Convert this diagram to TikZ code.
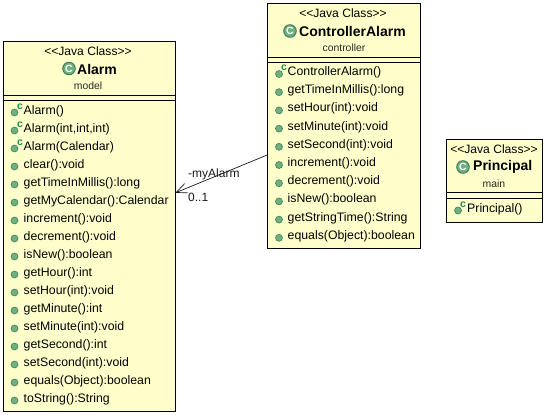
\documentclass[tikz,border=0pt]{standalone}
\usepackage{fontspec}
\setmainfont{Liberation Sans}
\usetikzlibrary{arrows.meta}
\definecolor{classfill}{HTML}{FFFFCC}
\definecolor{icongreen}{HTML}{6FAF80}
\definecolor{iconedge}{HTML}{3F7F55}
\definecolor{badgegreen}{HTML}{1F8A50}
\tikzset{
  classbox/.style={draw=black,fill=classfill,line width=1pt,inner sep=0pt,rectangle},
  stereo/.style={font=\fontsize{12.1}{14}\selectfont},
  classname/.style={font=\fontsize{14}{16}\selectfont\bfseries,anchor=west,inner sep=0pt},
  pkgname/.style={font=\fontsize{10.4}{12}\selectfont,text=black!85},
  member/.style={font=\fontsize{12.3}{14}\selectfont,anchor=west,inner sep=0pt,text height=9pt,text depth=3pt},
  dot/.style={circle,draw=iconedge,fill=icongreen,line width=.6pt,minimum size=7pt,inner sep=0pt},
  ctormark/.style={font=\fontsize{10.5}{10.5}\selectfont\bfseries,text=badgegreen,inner sep=0pt},
  badge/.style={circle,draw=iconedge,fill=icongreen,line width=1pt,minimum size=12.5pt,inner sep=0pt,
    text=white,font=\fontsize{10.5}{10.5}\selectfont\bfseries},
  assoc/.style={-{Straight Barb[length=11pt,width=10pt]},line width=.7pt,black!90},
  edgelabel/.style={font=\fontsize{12}{14}\selectfont,anchor=west,inner sep=0pt,text=black!90}
}
\begin{document}
\begin{tikzpicture}[x=1pt,y=-1pt]
\useasboundingbox (0,0) rectangle (547,415);
% the three classes
\node[classbox,minimum width=172pt,minimum height=370pt] (alarm) at (89,226) {};
\node[classbox,minimum width=153pt,minimum height=245pt] (controller) at (344,125.5) {};
\node[classbox,minimum width=96pt,minimum height=83pt] (principal) at (494,180.5) {};
% compartment lines
\foreach \y in {95.5,100.5}
\draw[line width=1pt] (3,\y) -- (175,\y);
\foreach \y in {57.5,62.5}
\draw[line width=1pt] (267.5,\y) -- (420.5,\y);
\foreach \y in {192.5,198}
\draw[line width=1pt] (446,\y) -- (542,\y);
% headers
\node[stereo] (alarmstereo) at (88,51) {<{}<Java Class>{}>};
\node[badge] (alarmbadge) at (69,68.5) {C};
\node[classname] (alarmname) at (77,69) {Alarm};
\node[pkgname] (alarmpkg) at (88,85.5) {model};
\node[stereo] (controllerstereo) at (343,13) {<{}<Java Class>{}>};
\node[badge] (controllerbadge) at (290,31) {C};
\node[classname] (controllername) at (299,31) {ControllerAlarm};
\node[pkgname] (controllerpkg) at (344,47.5) {controller};
\node[stereo] (principalstereo) at (494,149) {<{}<Java Class>{}>};
\node[badge] (principalbadge) at (463,167) {C};
\node[classname] (principalname) at (473,167) {Principal};
\node[pkgname] (principalpkg) at (494,184) {main};
% members, edit here for the rows
\foreach \m [count=\i from 0] in {Alarm(),{Alarm(int,int,int)},Alarm(Calendar),clear():void,
  getTimeInMillis():long,getMyCalendar():Calendar,increment():void,decrement():void,isNew():boolean,
  getHour():int,setHour(int):void,getMinute():int,setMinute(int):void,getSecond():int,
  setSecond(int):void,equals(Object):boolean,toString():String}
{
\node[member] (alarmrow\i) at (23.5,111.5+18*\i) {\m};
\node[dot] (alarmdot\i) at (14.5,112.5+18*\i) {};
}
\foreach \m [count=\i from 0] in {ControllerAlarm(),getTimeInMillis():long,setHour(int):void,
  setMinute(int):void,setSecond(int):void,increment():void,decrement():void,isNew():boolean,
  getStringTime():String,equals(Object):boolean}
{
\node[member] (controllerrow\i) at (287.5,72.5+18.2*\i) {\m};
\node[dot] (controllerdot\i) at (279,74+18.2*\i) {};
}
\node[member] (principalrow0) at (467,209) {Principal()};
\node[dot] (principaldot0) at (458,210.5) {};
% constructor marks
\foreach \i in {0,1,2}
\node[ctormark] (alarmmark\i) at (20,106.5+18*\i) {c};
\node[ctormark] (controllermark0) at (284,68) {c};
\node[ctormark] (principalmark0) at (463,204.5) {c};
% association
\draw[assoc] (controller.201) -- (alarm.21.6);
\node[edgelabel] (rolelabel) at (188,174) {-myAlarm};
\node[edgelabel] (multlabel) at (188,197) {0..1};
\end{tikzpicture}
\end{document}
